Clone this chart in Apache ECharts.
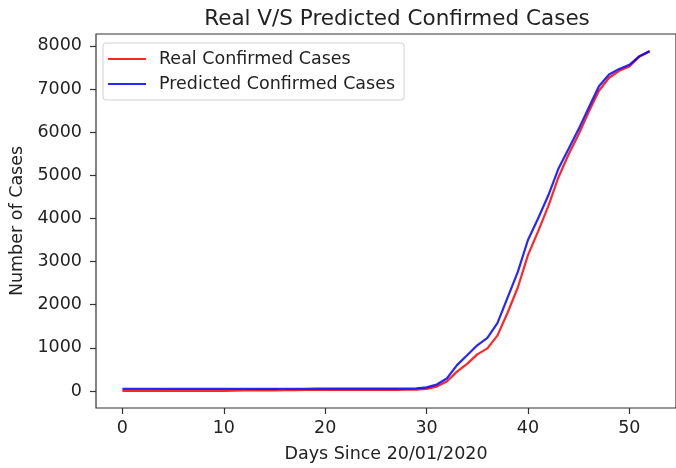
<!DOCTYPE html>
<html>
<head>
<meta charset="utf-8">
<script src="https://cdn.jsdelivr.net/npm/echarts@6/dist/echarts.min.js"></script>
<style>
html,body{margin:0;padding:0;background:#fff;}
#chart{width:676px;height:468px;}
</style>
</head>
<body>
<div id="chart"></div>
<script>
var days = [];
for (var i = 0; i <= 52; i++) days.push(i);

var realCases = [1,1,1,1,2,2,3,4,4,4,4,11,12,15,15,16,19,23,24,24,27,27,28,28,28,28,28,29,30,31,
  51,104,220,450,630,850,990,1290,1820,2400,3150,3700,4280,4950,5480,5950,6470,6960,7260,7420,7520,7755,7869];

var predictedCases = [48,48,48,49,49,49,50,50,50,50,51,51,51,52,52,52,53,53,53,54,54,54,55,55,55,56,56,57,58,60,
  85,150,290,600,830,1060,1230,1580,2170,2760,3500,4000,4530,5150,5610,6070,6570,7065,7335,7465,7560,7760,7880];

var xTicks = [0,10,20,30,40,50];
var yTicks = [0,1000,2000,3000,4000,5000,6000,7000,8000];

function pairs(xs, ys){ return xs.map(function(x,i){ return [x, ys[i]]; }); }
function plain(v){ return String(v); }

var font = 'DejaVu Sans';
var fs = 17.5;
var chart = echarts.init(document.getElementById('chart'), null, {renderer:'canvas'});
chart.setOption({
  animation: false,
  backgroundColor: '#fff',
  title: {
    text: 'Real V/S Predicted Confirmed Cases',
    left: 392, top: 3, textAlign: 'center',
    textStyle: {fontFamily: font, fontSize: 21.5, fontWeight: 'normal', color: '#222'}
  },
  grid: {
    left: 96, right: -7, top: 34, bottom: 56.5,
    show: true, borderColor: '#333', borderWidth: 1.2, backgroundColor: 'transparent'
  },
  legend: {
    left: 103, top: 43, orient: 'vertical',
    icon: 'rect', itemWidth: 38, itemHeight: 2, itemGap: 7,
    padding: [7, 9, 7, 5],
    borderColor: '#d0d0d0', borderWidth: 1, borderRadius: 3,
    backgroundColor: 'rgba(255,255,255,0.8)',
    textStyle: {fontFamily: font, fontSize: fs, color: '#222', padding: [0,0,0,8]},
    data: ['Real Confirmed Cases', 'Predicted Confirmed Cases']
  },
  xAxis: {
    type: 'value', min: -2.6, max: 54.6,
    name: 'Days Since 20/01/2020', nameLocation: 'middle', nameGap: 37,
    nameTextStyle: {fontFamily: font, fontSize: fs, color: '#222'},
    axisLine: {show: false, onZero: false},
    axisTick: {show: true, length: 6, lineStyle: {color: '#333', width: 1.2}, customValues: xTicks},
    axisLabel: {fontFamily: font, fontSize: fs, color: '#222', margin: 11, customValues: xTicks, formatter: plain},
    splitLine: {show: false}
  },
  yAxis: {
    type: 'value', min: -393, max: 8274,
    name: 'Number of Cases', nameLocation: 'middle', nameGap: 67,
    nameTextStyle: {fontFamily: font, fontSize: fs, color: '#222'},
    axisLine: {show: false, onZero: false},
    axisTick: {show: true, length: 6, lineStyle: {color: '#333', width: 1.2}, customValues: yTicks},
    axisLabel: {fontFamily: font, fontSize: fs, color: '#222', margin: 14, padding: [5,0,0,0], customValues: yTicks, formatter: plain},
    splitLine: {show: false}
  },
  series: [
    {
      name: 'Real Confirmed Cases', type: 'line', data: pairs(days, realCases),
      showSymbol: false, symbol: 'none', smooth: false,
      color: 'rgba(255,0,0,0.85)',
      lineStyle: {width: 2.2, color: 'rgba(255,0,0,0.85)'}
    },
    {
      name: 'Predicted Confirmed Cases', type: 'line', data: pairs(days, predictedCases),
      showSymbol: false, symbol: 'none', smooth: false,
      color: 'rgba(0,0,255,0.85)',
      lineStyle: {width: 2.2, color: 'rgba(0,0,255,0.85)'}
    }
  ]
});
</script>
</body>
</html>
